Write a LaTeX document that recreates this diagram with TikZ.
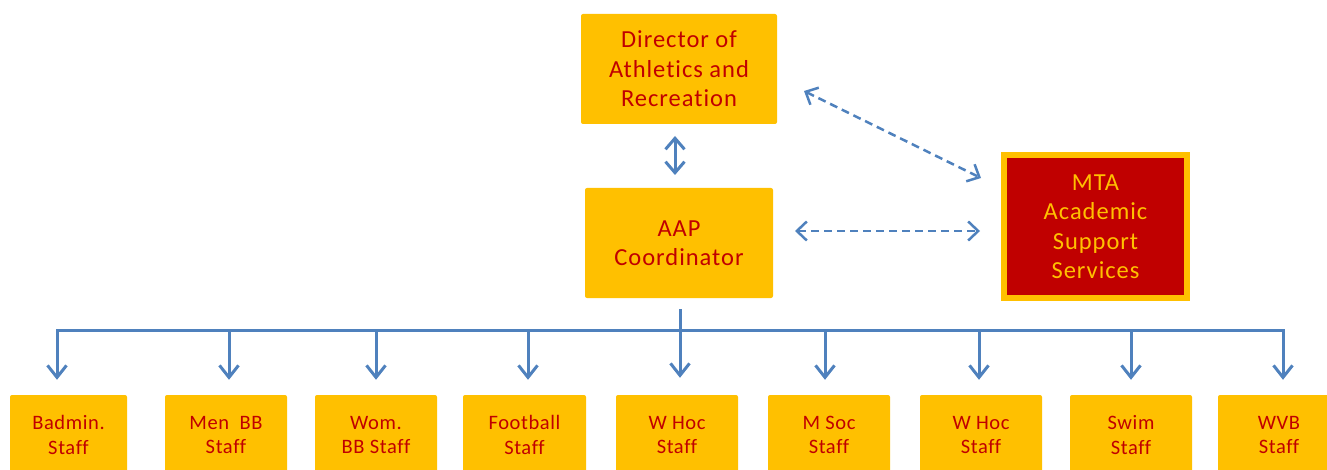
\documentclass[tikz,border=0pt]{standalone}
\usepackage{fontspec}
\setmainfont{Carlito}[Ligatures={NoCommon}]
\usetikzlibrary{arrows.meta}
\definecolor{boxorange}{HTML}{FFC000}
\definecolor{txtred}{HTML}{C00000}
\definecolor{arrblue}{HTML}{4F81BD}
\begin{document}
\begin{tikzpicture}[x=1pt,y=-1pt,
  topbox/.style={fill=boxorange, rounded corners=2pt, inner sep=0pt, align=center,
    text=txtred, font=\fontsize{24.5}{29.5}\selectfont\addfontfeature{LetterSpace=4}},
  mtabox/.style={fill=txtred, draw=boxorange, line width=6pt, inner sep=0pt, align=center,
    text=boxorange, font=\fontsize{24.5}{29.5}\selectfont\addfontfeature{LetterSpace=4}, minimum width=183pt, minimum height=143pt},
  staffbox/.style={fill=boxorange, rounded corners=2pt, inner sep=0pt, align=center,
    text=txtred, font=\fontsize{20.5}{24.5}\selectfont\addfontfeature{LetterSpace=3}, minimum height=80pt},
  tip/.tip={Straight Barb[length=12pt,width=19pt]},
  conn/.style={draw=arrblue, line width=3pt, line join=miter},
  dconn/.style={draw=arrblue, line width=2.5pt, dash pattern=on 8pt off 5pt, {Straight Barb[length=10pt,width=19pt]}-{Straight Barb[length=10pt,width=19pt]}}
]
\useasboundingbox (0,0) rectangle (1327,470);
\node[topbox, minimum width=196pt, minimum height=110pt] (dir) at (679,69) {Director of\\Athletics and\\Recreation};
\node[topbox, minimum width=188pt, minimum height=110pt] (aap) at (679,243) {AAP\\Coordinator};
\node[mtabox] (mta) at (1095.5,226.5) {MTA\\Academic\\Support\\Services};

\node[staffbox, minimum width=117pt] (b1) at (68.5,435) {Badmin.\\Staff};
\node[staffbox, minimum width=122pt] (b2) at (226,435) {Men\ \ BB\\Staff};
\node[staffbox, minimum width=122pt] (b3) at (376,435) {Wom.\\BB Staff};
\node[staffbox, minimum width=123pt] (b4) at (524.5,435) {Football\\Staff};
\node[staffbox, minimum width=122pt] (b5) at (677,435) {W Hoc\\Staff};
\node[staffbox, minimum width=122pt] (b6) at (829,435) {M Soc\\Staff};
\node[staffbox, minimum width=122pt] (b7) at (981,435) {W Hoc\\Staff};
\node[staffbox, minimum width=122pt] (b8) at (1131,435) {Swim\\Staff};
\node[staffbox, minimum width=122pt] (b9) at (1279,435) {WVB\\Staff};

% director <-> aap
\coordinate (d1) at (675,136);
\coordinate (d2) at (675,175);
\draw[conn, {Straight Barb[length=11pt,width=19pt]}-{Straight Barb[length=11pt,width=19pt]}] (d1) -- (d2);

% dashed links to MTA
\coordinate (e1) at (804,91);
\coordinate (e2) at (981,178);
\draw[dconn] (e1) -- (e2);
\coordinate (f1) at (795,231);
\coordinate (f2) at (980,231);
\draw[dconn] (f1) -- (f2);

% bus
\coordinate (hub) at (680,309);
\draw[conn, tip-tip] ([yshift=15pt]b1.north -| 57,0) -- (57,330) -- (1283,330) -- ([yshift=15pt]b9.north -| 1283,0);
\draw[conn, -tip] (hub) -- ([yshift=17pt]b5.north -| hub);
\foreach \i/\x in {2/229,3/376,4/528,6/825,7/979,8/1131}{
  \draw[conn, -tip] (\x,330) -- ([yshift=15pt]b\i.north -| \x,0);
}
\end{tikzpicture}
\end{document}
